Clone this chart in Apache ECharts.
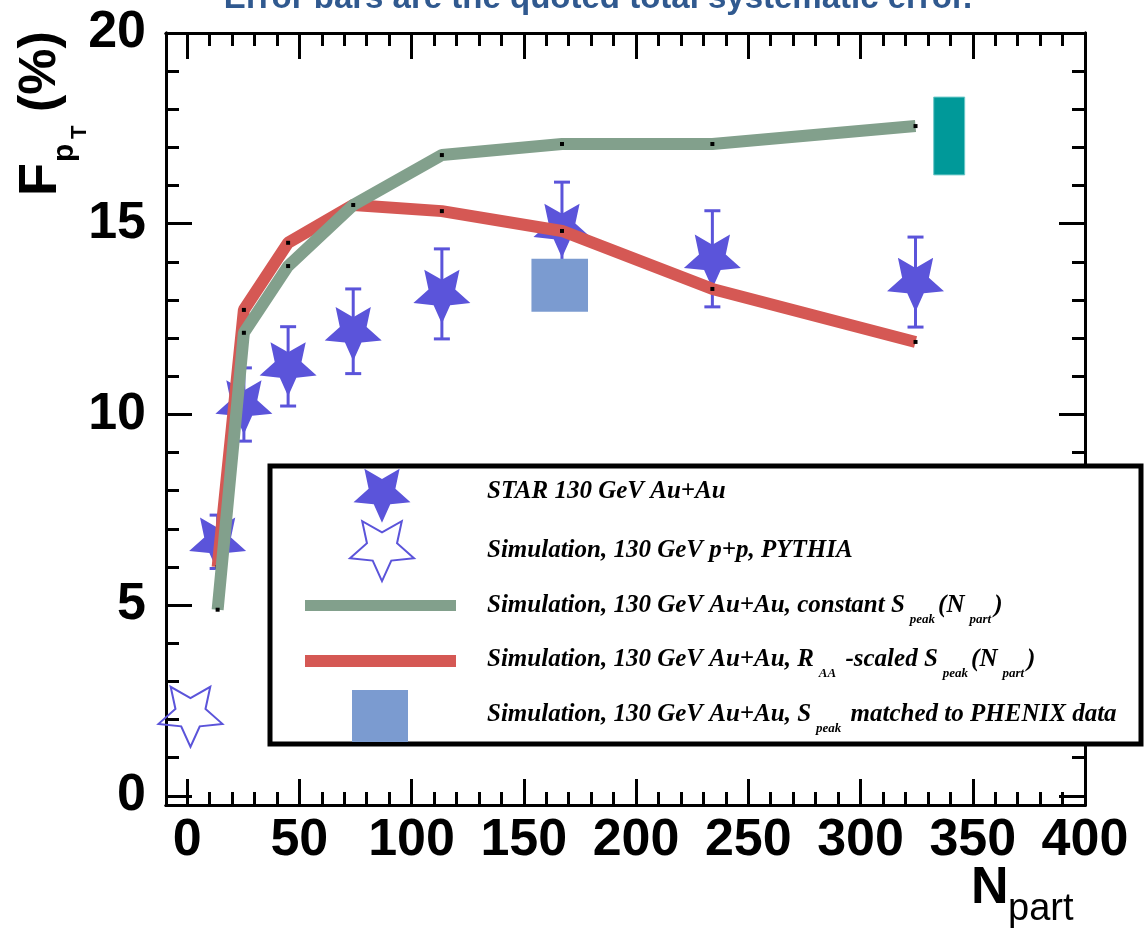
<!DOCTYPE html>
<html>
<head>
<meta charset="utf-8">
<script src="https://cdn.jsdelivr.net/npm/echarts@6/dist/echarts.min.js"></script>
<style>
html,body{margin:0;padding:0;background:#fff;}
#chart{width:1146px;height:933px;}
</style>
</head>
<body>
<div id="chart"></div>
<script>
// ---------------- data ----------------
const nPart   = [13.6, 25.3, 45.0, 74.0, 113.5, 167.0, 234.0, 324.5];
const starF   = [6.66, 10.26, 11.26, 12.18, 13.16, 14.89, 14.08, 13.47];
const starErr = [0.70, 0.96, 1.04, 1.11, 1.18, 1.20, 1.26, 1.18];
const greenF  = [4.88, 12.14, 13.89, 15.49, 16.80, 17.09, 17.09, 17.56];
const redF    = [6.00, 12.74, 14.50, 15.49, 15.33, 14.81, 13.29, 11.90];
const pythiaN = [1.5];
const pythiaF = [2.15];
const phenixN = [166.0], phenixHalf = [12.6], phenixLow = [12.69], phenixHigh = [14.08];
const sysN = [339.5], sysHalf = [6.9], sysLow = [16.28], sysHigh = [18.32];
const xTickLabels = [0, 50, 100, 150, 200, 250, 300, 350, 400];
const yTickLabels = [0, 5, 10, 15, 20];
const titleText = 'Error bars are the quoted total systematic error.';
const legendRows = [
  '{a|STAR 130 GeV Au+Au}',
  '{a|Simulation, 130 GeV p+p, PYTHIA}',
  '{a|Simulation, 130 GeV Au+Au, constant S}{s|peak}{a|(N}{s|part}{a|)}',
  '{a|Simulation, 130 GeV Au+Au, R}{s|AA}{a| -scaled S}{s|peak}{a|(N}{s|part}{a|)}',
  '{a|Simulation, 130 GeV Au+Au, S}{s|peak}{a| matched to PHENIX data}'
];

// ---------------- style ----------------
const BLUE = '#5b54da', GREEN = '#82a08c', RED = '#d55854', BOX = '#7b9bd0', TEAL = '#009999';
const STAR_PTS = [[0,1],[0.276,0.38],[0.951,0.309],[0.447,-0.145],[0.588,-0.809],[0,-0.47],[-0.588,-0.809],[-0.447,-0.145],[-0.951,0.309],[-0.276,0.38]];
const STAR = 'path://M' + STAR_PTS.map(p => (p[0] * 100).toFixed(1) + ' ' + (p[1] * 100).toFixed(1)).join(' L') + ' Z';
function starPoly(cx, cy, w, h) {
  return STAR_PTS.map(p => [cx + p[0] * w / 1.902, cy + p[1] * h / 1.809]);
}
const X_MIN = -9.4, X_MAX = 400, Y_MIN = -0.24, Y_MAX = 20;
const SANS = 'Liberation Sans, Arial, Helvetica, sans-serif';
const SERIF = 'Liberation Serif, Times New Roman, serif';

function frameAxis(dim, position, split, tickLen, labels) {
  const ax = {
    type: 'value', position: position,
    min: dim === 'x' ? X_MIN : Y_MIN, max: dim === 'x' ? X_MAX : Y_MAX,
    splitNumber: split,
    axisLine: { show: true, onZero: false, lineStyle: { color: '#000', width: 3 } },
    axisTick: { show: true, inside: true, length: tickLen, lineStyle: { color: '#000', width: 3 } },
    splitLine: { show: false },
    axisLabel: { show: false }
  };
  if (labels) {
    const list = dim === 'x' ? xTickLabels : yTickLabels;
    ax.axisLabel = {
      show: true, showMinLabel: false, showMaxLabel: true,
      color: '#000', fontFamily: SANS, fontWeight: 'bold', fontSize: 52,
      margin: dim === 'x' ? 10 : 20,
      padding: dim === 'x' ? 0 : [0, 0, 9, 0],
      formatter: function (v) { return list.indexOf(Math.round(v * 1000) / 1000) >= 0 ? String(Math.round(v)) : ''; }
    };
  }
  return ax;
}

const chart = echarts.init(document.getElementById('chart'), null, { renderer: 'canvas' });

const graphics = [
  { type: 'text', x: 598, y: -1, z: 100, style: { text: titleText, fill: '#30598f', font: 'bold 33px ' + SANS, align: 'center', verticalAlign: 'middle' } },
  { type: 'group', x: 60, y: 192, rotation: Math.PI / 2, z: 100, children: [
    { type: 'text', x: -4, y: -19, style: { text: 'F', fill: '#000', font: 'bold 54px ' + SANS, align: 'left', verticalAlign: 'middle' } },
    { type: 'text', x: 30, y: 5, style: { text: 'p', fill: '#000', font: 'bold 30px ' + SANS, align: 'left', verticalAlign: 'middle' } },
    { type: 'text', x: 53, y: 20, style: { text: 'T', fill: '#000', font: 'bold 22px ' + SANS, align: 'left', verticalAlign: 'middle' } },
    { type: 'text', x: 80, y: -19, style: { text: '(%)', fill: '#000', font: 'bold 52px ' + SANS, align: 'left', verticalAlign: 'middle' } }
  ] },
  { type: 'text', x: 971, y: 889, z: 100, style: { text: 'N', fill: '#000', font: 'bold 52px ' + SANS, align: 'left', verticalAlign: 'middle' } },
  { type: 'text', x: 1008, y: 910, z: 100, style: { text: 'part', fill: '#000', font: '38px ' + SANS, align: 'left', verticalAlign: 'middle' } },
  { type: 'rect', z: 100, shape: { x: 270, y: 466, width: 871, height: 278 }, style: { fill: '#fff', stroke: '#000', lineWidth: 5 } },
  { type: 'polygon', z: 101, shape: { points: starPoly(382, 493, 57, 54) }, style: { fill: BLUE } },
  { type: 'polygon', z: 101, shape: { points: starPoly(382, 548, 64, 60) }, style: { fill: 'none', stroke: BLUE, lineWidth: 2 } },
  { type: 'rect', z: 101, shape: { x: 305, y: 600, width: 151, height: 11 }, style: { fill: GREEN } },
  { type: 'rect', z: 101, shape: { x: 305, y: 655, width: 151, height: 12 }, style: { fill: RED } },
  { type: 'rect', z: 101, shape: { x: 352, y: 690, width: 56, height: 52 }, style: { fill: BOX } }
];
const rowYs = [494, 553, 608, 662, 717];
legendRows.forEach(function (t, i) {
  graphics.push({ type: 'text', z: 102, x: 487, y: rowYs[i] - 15, style: {
    text: t, align: 'left', verticalAlign: 'top',
    rich: {
      a: { fontFamily: SERIF, fontStyle: 'italic', fontWeight: 'bold', fontSize: 25, lineHeight: 30, verticalAlign: 'top', fill: '#000' },
      s: { fontFamily: SERIF, fontStyle: 'italic', fontWeight: 'bold', fontSize: 13, lineHeight: 14, verticalAlign: 'top', padding: [20, 3, 0, 5], fill: '#000' }
    }
  } });
});

const option = {
  animation: false,
  backgroundColor: '#fff',
  grid: { left: 166, right: 61, top: 33, bottom: 128, containLabel: false },
  xAxis: [
    frameAxis('x', 'bottom', 8, 26, true),
    frameAxis('x', 'bottom', 41, 13, false),
    frameAxis('x', 'top', 8, 26, false),
    frameAxis('x', 'top', 41, 13, false)
  ],
  yAxis: [
    frameAxis('y', 'left', 4, 26, true),
    frameAxis('y', 'left', 20, 13, false),
    frameAxis('y', 'right', 4, 26, false),
    frameAxis('y', 'right', 20, 13, false)
  ],
  series: [
    {
      name: 'errors', type: 'custom', xAxisIndex: 0, yAxisIndex: 0, z: 2, silent: true,
      data: nPart.map((n, i) => [n, starF[i] - starErr[i], starF[i] + starErr[i]]),
      renderItem: function (params, api) {
        const top = api.coord([api.value(0), api.value(2)]);
        const bot = api.coord([api.value(0), api.value(1)]);
        const c = 8, st = { stroke: BLUE, lineWidth: 3 };
        return { type: 'group', children: [
          { type: 'line', shape: { x1: top[0], y1: top[1], x2: bot[0], y2: bot[1] }, style: st },
          { type: 'line', shape: { x1: top[0] - c, y1: top[1], x2: top[0] + c, y2: top[1] }, style: st },
          { type: 'line', shape: { x1: bot[0] - c, y1: bot[1], x2: bot[0] + c, y2: bot[1] }, style: st }
        ] };
      }
    },
    {
      name: 'STAR 130 GeV Au+Au', type: 'scatter', z: 3, silent: true,
      symbol: STAR, symbolSize: [57, 54], symbolOffset: [0, 2.8],
      itemStyle: { color: BLUE, opacity: 1 },
      data: nPart.map((n, i) => [n, starF[i]])
    },
    {
      name: 'PYTHIA', type: 'scatter', z: 3, silent: true,
      symbol: STAR, symbolSize: [64, 60], symbolOffset: [0, 3],
      itemStyle: { color: 'rgba(255,255,255,0)', borderColor: BLUE, borderWidth: 2, opacity: 1 },
      data: pythiaN.map((n, i) => [n, pythiaF[i]])
    },
    {
      name: 'boxes', type: 'custom', z: 4, silent: true,
      data: phenixN.map((n, i) => [n, phenixLow[i], phenixHigh[i], phenixHalf[i]]),
      renderItem: function (params, api) {
        const a = api.coord([api.value(0) - api.value(3), api.value(2)]);
        const b = api.coord([api.value(0) + api.value(3), api.value(1)]);
        return { type: 'rect', shape: { x: a[0], y: a[1], width: b[0] - a[0], height: b[1] - a[1] }, style: { fill: BOX } };
      }
    },
    {
      name: 'sys', type: 'custom', z: 4, silent: true,
      data: sysN.map((n, i) => [n, sysLow[i], sysHigh[i], sysHalf[i]]),
      renderItem: function (params, api) {
        const a = api.coord([api.value(0) - api.value(3), api.value(2)]);
        const b = api.coord([api.value(0) + api.value(3), api.value(1)]);
        return { type: 'rect', shape: { x: a[0], y: a[1], width: b[0] - a[0], height: b[1] - a[1] }, style: { fill: TEAL, stroke: '#6cc8c8', lineWidth: 1 } };
      }
    },
    {
      name: 'RAA scaled', type: 'line', z: 5, silent: true,
      data: nPart.map((n, i) => [n, redF[i]]),
      lineStyle: { color: RED, width: 12 },
      symbol: 'rect', symbolSize: 4, showSymbol: true, itemStyle: { color: '#000' }
    },
    {
      name: 'constant', type: 'line', z: 6, silent: true,
      data: nPart.map((n, i) => [n, greenF[i]]),
      lineStyle: { color: GREEN, width: 12 },
      symbol: 'rect', symbolSize: 4, showSymbol: true, itemStyle: { color: '#000' }
    }
  ],
  graphic: graphics
};

chart.setOption(option);
</script>
</body>
</html>
